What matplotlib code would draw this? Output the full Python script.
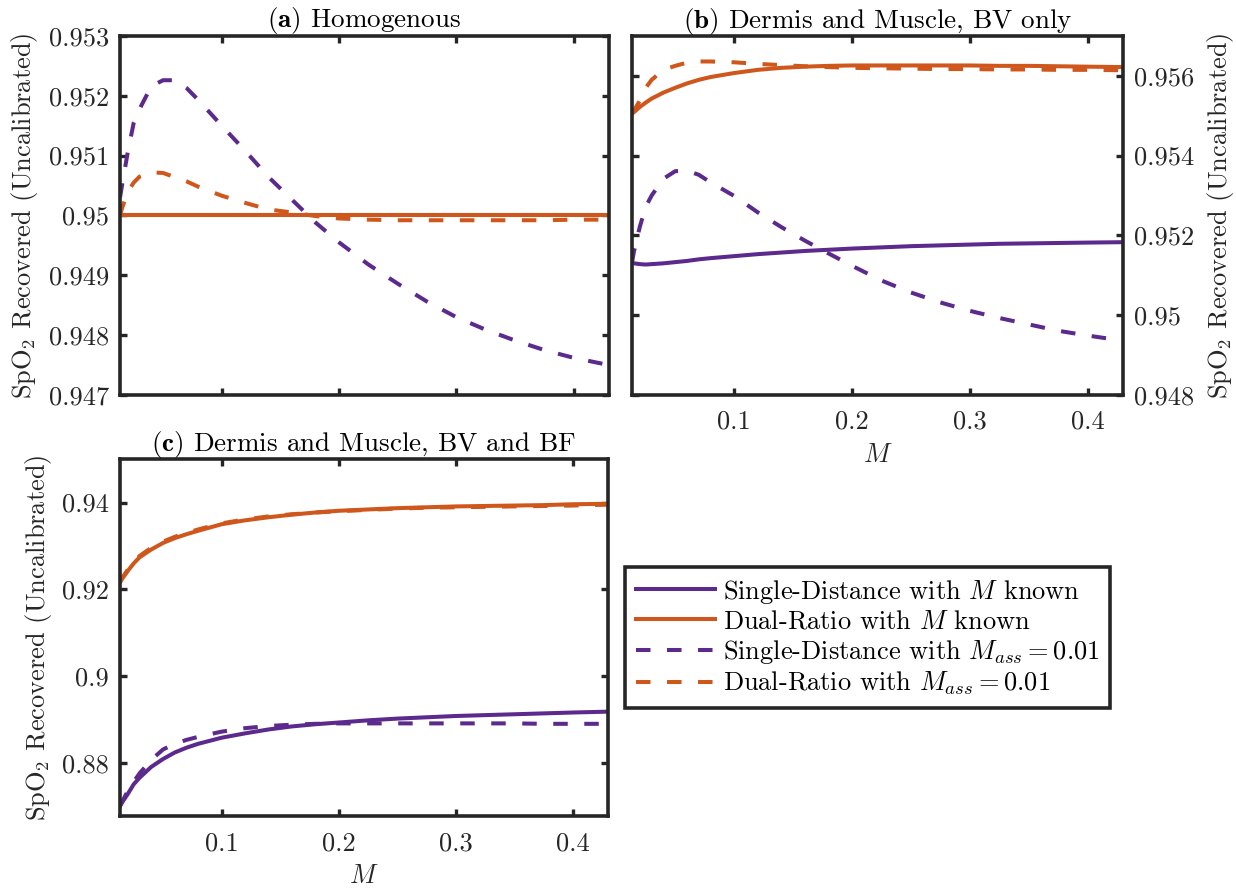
import numpy as np
import matplotlib
matplotlib.use('Agg')
import matplotlib.pyplot as plt
from matplotlib.ticker import FuncFormatter

# Common M grid the curves were sampled on
M = [0.0133, 0.015, 0.02, 0.025, 0.03, 0.04, 0.05, 0.06, 0.07, 0.08, 0.1, 0.12,
     0.14, 0.16, 0.18, 0.2, 0.225, 0.25, 0.275, 0.3, 0.325, 0.35, 0.375, 0.4, 0.43]

# (a) Homogenous
a_sd_known = [0.95] * len(M)
a_dr_known = [0.95] * len(M)
a_sd_ass = [0.9503, 0.9505, 0.95107, 0.95155, 0.95178, 0.95216, 0.95226, 0.95226,
            0.95213, 0.95193, 0.9515, 0.95108, 0.95064, 0.95026, 0.94988, 0.94955,
            0.94918, 0.94886, 0.94856, 0.9483, 0.94809, 0.94791, 0.94775, 0.94762, 0.9475]
a_dr_ass = [0.95, 0.95012, 0.9504, 0.95055, 0.95065, 0.95072, 0.95071, 0.95064,
            0.95057, 0.95048, 0.95033, 0.95021, 0.9501, 0.95005, 0.94999, 0.94995,
            0.94993, 0.94992, 0.94992, 0.94992, 0.94992, 0.94992, 0.94992, 0.94993, 0.94993]

# (b) Dermis and Muscle, BV only
b_sd_known = [0.95132, 0.9513, 0.95128, 0.95127, 0.95128, 0.9513, 0.95133, 0.95136,
              0.9514, 0.95143, 0.95148, 0.95153, 0.95157, 0.95161, 0.95164, 0.95167,
              0.9517, 0.95173, 0.95175, 0.95177, 0.95179, 0.9518, 0.95181, 0.95182, 0.95183]
b_dr_known = [0.95505, 0.95509, 0.95522, 0.95533, 0.95543, 0.95558, 0.9557, 0.95581,
              0.9559, 0.95597, 0.95607, 0.95615, 0.9562, 0.95623, 0.95625, 0.95626,
              0.95626, 0.95626, 0.95626, 0.95626, 0.95625, 0.95625, 0.95624, 0.95623, 0.95622]
b_sd_ass = [0.95132, 0.9516, 0.95222, 0.95272, 0.953, 0.95342, 0.95361, 0.95362,
            0.95352, 0.95333, 0.95299, 0.95258, 0.95221, 0.95187, 0.95155, 0.95124,
            0.95087, 0.95057, 0.95032, 0.95011, 0.94993, 0.94977, 0.94961, 0.94949, 0.94936]
b_dr_ass = [0.95505, 0.95513, 0.95538, 0.9557, 0.9559, 0.95615, 0.95625, 0.95633,
            0.95636, 0.95636, 0.95634, 0.9563, 0.95627, 0.95624, 0.95622, 0.9562,
            0.95619, 0.95618, 0.95617, 0.95617, 0.95616, 0.95616, 0.95615, 0.95615, 0.95614]

# (c) Dermis and Muscle, BV and BF
c_sd_known = [0.8702, 0.871, 0.873, 0.8752, 0.8767, 0.8792, 0.881, 0.8825, 0.8836,
              0.8845, 0.8859, 0.8869, 0.8878, 0.8885, 0.889, 0.8894, 0.8899, 0.8903,
              0.8906, 0.8909, 0.8911, 0.8913, 0.8915, 0.8917, 0.8919]
c_dr_known = [0.92166, 0.9224, 0.9243, 0.926, 0.9274, 0.9292, 0.9307, 0.9318, 0.9327,
              0.9335, 0.935, 0.9359, 0.9366, 0.9372, 0.9377, 0.9381, 0.9384, 0.9387,
              0.9389, 0.9391, 0.9392, 0.9393, 0.9394, 0.9396, 0.9397]
c_sd_ass = [0.8702, 0.8711, 0.8737, 0.8758, 0.8777, 0.8808, 0.8832, 0.8845, 0.8854,
            0.8861, 0.8873, 0.8881, 0.8886, 0.8889, 0.8891, 0.8892, 0.8892, 0.8892,
            0.8892, 0.8892, 0.8892, 0.8892, 0.8891, 0.8891, 0.8891]
c_dr_ass = [0.92166, 0.9226, 0.9246, 0.9263, 0.9277, 0.9296, 0.931, 0.9321, 0.933,
            0.9338, 0.9352, 0.9361, 0.9368, 0.9373, 0.9377, 0.938, 0.9383, 0.9386,
            0.9388, 0.9389, 0.939, 0.9391, 0.9392, 0.9393, 0.9395]

purple = '#5b2a8c'
orange = '#cf571c'
axColor = '#262626'
dash = (3.6, 4.1)

labels = [r'Single-Distance with $M$ known',
          r'Dual-Ratio with $M$ known',
          r'Single-Distance with $M_{ass}=0.01$',
          r'Dual-Ratio with $M_{ass}=0.01$']

plt.rcParams['font.family'] = 'serif'
plt.rcParams['font.serif'] = ['cmr10']
plt.rcParams['mathtext.fontset'] = 'cm'
plt.rcParams['axes.formatter.use_mathtext'] = True
plt.rcParams['font.size'] = 19


def draw_panel(ax, sdKnown, drKnown, sdAss, drAss):
    lines = []
    lines += ax.plot(M, sdKnown, color=purple, lw=2.9, label=labels[0])
    lines += ax.plot(M, drKnown, color=orange, lw=2.9, label=labels[1])
    lines += ax.plot(M, sdAss, color=purple, lw=2.9, dashes=dash, label=labels[2])
    lines += ax.plot(M, drAss, color=orange, lw=2.9, dashes=dash, label=labels[3])
    ax.set_xlim(0.0133, 0.43)
    ax.set_xticks([0.1, 0.2, 0.3, 0.4])
    ax.tick_params(direction='in', top=True, right=True, length=5, width=2.4,
                   colors=axColor, labelsize=19, pad=8)
    ax.tick_params(axis='x', pad=11)
    for s in ax.spines.values():
        s.set_linewidth(2.6)
        s.set_color(axColor)
    fmt = FuncFormatter(lambda v, p: '%g' % round(v, 6))
    ax.xaxis.set_major_formatter(fmt)
    ax.yaxis.set_major_formatter(fmt)
    return lines


fig = plt.figure(figsize=(12.36, 8.92), dpi=100)
ylab = r'SpO$_2$ Recovered (Uncalibrated)'
titleSize = 19.5

axA = fig.add_axes([0.0971, 0.5572, 0.3956, 0.4025])
draw_panel(axA, a_sd_known, a_dr_known, a_sd_ass, a_dr_ass)
axA.set_ylim(0.947, 0.953)
axA.set_yticks(np.arange(0.947, 0.95301, 0.001))
axA.tick_params(labelbottom=False)
axA.set_ylabel(ylab, color=axColor, labelpad=6)
axA.set_title(r'$\mathbf{(a)}$ Homogenous', pad=6, fontsize=titleSize)

axB = fig.add_axes([0.5113, 0.5572, 0.3972, 0.4025])
draw_panel(axB, b_sd_known, b_dr_known, b_sd_ass, b_dr_ass)
axB.set_ylim(0.948, 0.957)
axB.set_yticks(np.arange(0.948, 0.95601, 0.002))
axB.tick_params(labelleft=False, labelright=True)
axB.yaxis.set_label_position('right')
axB.set_ylabel(ylab, color=axColor, labelpad=8)
axB.set_xlabel(r'$M$', color=axColor, labelpad=7)
axB.set_title(r'$\mathbf{(b)}$ Dermis and Muscle, BV only', pad=6, fontsize=titleSize)

axC = fig.add_axes([0.0971, 0.0852, 0.3948, 0.4002])
handles = draw_panel(axC, c_sd_known, c_dr_known, c_sd_ass, c_dr_ass)
axC.set_ylim(0.8679, 0.95)
axC.set_yticks([0.88, 0.9, 0.92, 0.94])
axC.set_ylabel(ylab, color=axColor, labelpad=6)
axC.set_xlabel(r'$M$', color=axColor, labelpad=7)
axC.set_title(r'$\mathbf{(c)}$ Dermis and Muscle, BV and BF', pad=6, fontsize=titleSize)

leg = fig.legend(handles=handles, loc='upper left', bbox_to_anchor=(0.5057, 0.3643),
                 bbox_transform=fig.transFigure, borderaxespad=0, fancybox=False,
                 framealpha=1, edgecolor=axColor, fontsize=19, handlelength=3.0,
                 handletextpad=0.3, labelspacing=0.16, borderpad=0.4)
leg.get_frame().set_linewidth(2.6)

fig.savefig('out.png', dpi=100)
